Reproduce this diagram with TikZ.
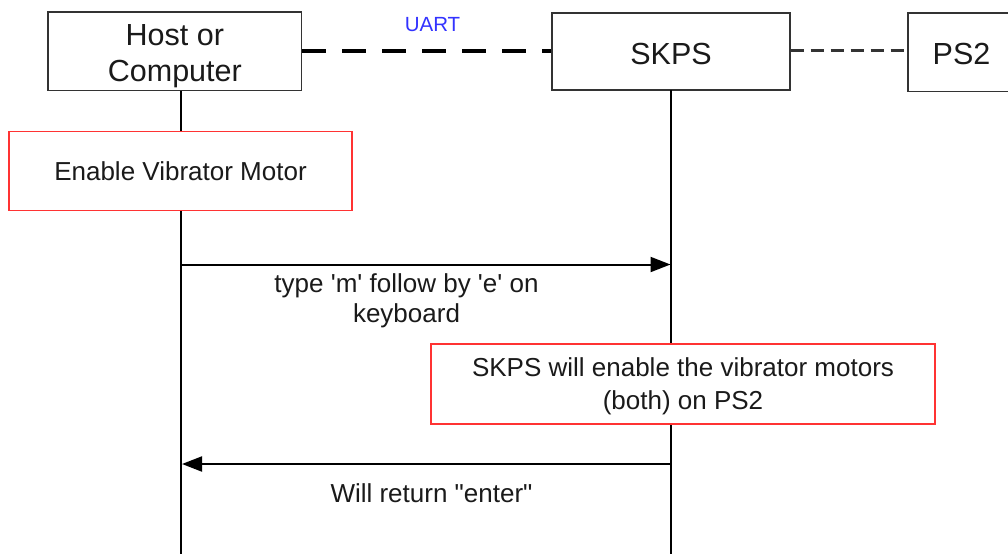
\documentclass[tikz,border=0pt]{standalone}
\usepackage{fontspec}
\setmainfont{Liberation Sans}[Ligatures=TeXOff]
\usetikzlibrary{arrows.meta}
\definecolor{boxline}{HTML}{333333}
\definecolor{txt}{HTML}{1A1A1A}
\definecolor{redline}{HTML}{FF3333}
\definecolor{uartblue}{HTML}{3333FF}
\newcommand{\lowerby}[2]{\raisebox{-#1}[\height][\depth]{#2}}
\tikzset{
  actor/.style={draw=boxline, line width=1.3pt, fill=white, text=txt, inner sep=0pt, align=center, font=\fontsize{30.5}{36}\selectfont},
  notebox/.style={draw=redline, line width=1.5pt, fill=white, text=txt, inner sep=0pt, align=center, font=\fontsize{26}{33}\selectfont},
  lifeline/.style={draw=black, line width=2pt},
  msg/.style={draw=black, line width=2pt, -{Triangle[length=20pt,width=15pt]}},
  msglabel/.style={text=txt, inner sep=0pt, align=center, font=\fontsize{26}{29.5}\selectfont},
  uartlink/.style={draw=black, line width=4pt, dash pattern=on 24pt off 16pt},
  ps2link/.style={draw=boxline, line width=2.6pt, dash pattern=on 13pt off 7pt},
}
\begin{document}
\begin{tikzpicture}[x=1pt,y=-1pt]
\useasboundingbox[fill=white] (0,0) rectangle (1008,554);
\clip (0,0) rectangle (1008,554);
% actors
\node[actor, minimum width=253.7pt, minimum height=78.7pt] (host) at (174.85,51.35) {\lowerby{5pt}{\begin{tabular}{@{}c@{}}Host or\\Computer\end{tabular}}};
\node[actor, minimum width=238pt, minimum height=77pt] (skps) at (671,51.5) {\lowerby{2pt}{SKPS}};
\node[actor, minimum width=107pt, minimum height=78.5pt] (ps2) at (961.5,52.25) {\lowerby{2pt}{PS2}};
% links
\draw[uartlink] (host.east |- 0,50.7) -- (skps.west |- 0,50.7);
\node[inner sep=0pt, text=uartblue, font=\fontsize{20.5}{24}\selectfont] (uart) at (432.5,25) {UART};
\draw[ps2link] (skps.east |- 0,50.7) -- (ps2.west |- 0,50.7);
% lifelines
\coordinate (hostend) at (181,554);
\coordinate (skpsend) at (670.5,554);
\draw[lifeline] (181,90.7) -- (hostend);
\draw[lifeline] (670.5,90) -- (skpsend);
% notes
\node[notebox, minimum width=343pt, minimum height=79pt] (note1) at (180.5,171.2) {Enable Vibrator Motor};
\node[notebox, minimum width=504pt, minimum height=80pt] (note2) at (683,384) {\lowerby{2.5pt}{\begin{tabular}{@{}c@{}}SKPS will enable the vibrator motors\\(both) on PS2\end{tabular}}};
% messages
\coordinate (m1s) at (181,264.5);
\coordinate (m1e) at (670.5,264.5);
\coordinate (m2s) at (670.5,464);
\coordinate (m2e) at (182,464);
\draw[msg] (m1s) -- (m1e);
\draw[msg] (m2s) -- (m2e);
\node[msglabel] (l1) at (406.5,301) {type 'm' follow by 'e' on\\keyboard};
\node[msglabel] (l2) at (431.5,493) {Will return "enter"};
\end{tikzpicture}
\end{document}
